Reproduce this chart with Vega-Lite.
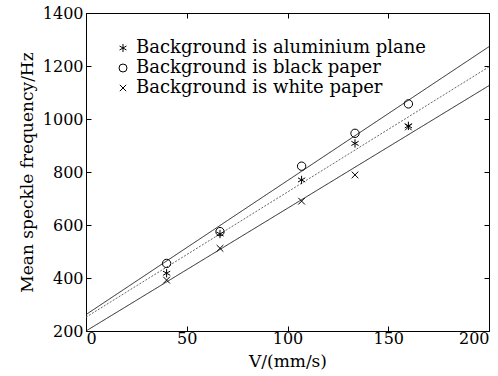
{
  "$schema": "https://vega.github.io/schema/vega-lite/v6.json",
  "width": 403,
  "height": 318,
  "autosize": {"type": "none"},
  "padding": {"left": 86, "top": 13, "right": 9, "bottom": 45},
  "background": "white",
  "config": {
    "view": {"stroke": "black", "strokeWidth": 1},
    "font": "DejaVu Serif",
    "axis": {
      "domainColor": "black",
      "tickColor": "black",
      "labelColor": "black",
      "titleColor": "black",
      "labelFont": "DejaVu Serif",
      "titleFont": "DejaVu Serif",
      "labelFontSize": 16,
      "titleFontSize": 17,
      "titleFontWeight": "normal",
      "grid": false,
      "tickSize": -5,
      "format": "d"
    },
    "legend": {
      "labelFont": "DejaVu Serif",
      "labelFontSize": 18,
      "labelColor": "black",
      "labelLimit": 0
    }
  },
  "datasets": {
    "pts": [
      {"series": "Background is aluminium plane", "V": 40, "F": 418},
      {"series": "Background is aluminium plane", "V": 66.5, "F": 566},
      {"series": "Background is aluminium plane", "V": 107, "F": 770},
      {"series": "Background is aluminium plane", "V": 133.5, "F": 908},
      {"series": "Background is aluminium plane", "V": 160, "F": 974},
      {"series": "Background is black paper", "V": 40, "F": 455},
      {"series": "Background is black paper", "V": 66.5, "F": 575},
      {"series": "Background is black paper", "V": 107, "F": 822},
      {"series": "Background is black paper", "V": 133.5, "F": 946},
      {"series": "Background is black paper", "V": 160, "F": 1057},
      {"series": "Background is white paper", "V": 40, "F": 392},
      {"series": "Background is white paper", "V": 66.5, "F": 512},
      {"series": "Background is white paper", "V": 107, "F": 690},
      {"series": "Background is white paper", "V": 133.5, "F": 789},
      {"series": "Background is white paper", "V": 160, "F": 970}
    ],
    "fits": [
      {"series": "black", "V": 0, "F": 262},
      {"series": "black", "V": 200, "F": 1273},
      {"series": "aluminium", "V": 0, "F": 252},
      {"series": "aluminium", "V": 200, "F": 1197},
      {"series": "white", "V": 0, "F": 200},
      {"series": "white", "V": 200, "F": 1126}
    ]
  },
  "layer": [
    {
      "data": {"name": "fits"},
      "mark": {"type": "line", "strokeWidth": 1, "color": "black", "clip": true},
      "encoding": {
        "x": {"field": "V", "type": "quantitative", "scale": {"domain": [0, 200], "nice": false},
          "axis": {"orient": "top", "labels": false, "title": null, "values": [0, 50, 100, 150, 200]}},
        "y": {"field": "F", "type": "quantitative", "scale": {"domain": [200, 1400], "nice": false, "zero": false},
          "axis": {"orient": "right", "labels": false, "title": null, "values": [200, 400, 600, 800, 1000, 1200, 1400]}},
        "detail": {"field": "series"},
        "strokeDash": {"field": "series", "type": "nominal", "legend": null,
          "scale": {"domain": ["black", "aluminium", "white"], "range": [[1, 0], [2, 1.5], [1, 0]]}},
        "color": {"field": "series", "type": "nominal", "legend": null,
          "scale": {"domain": ["black", "aluminium", "white"], "range": ["#222222", "#666666", "#222222"]}}
      }
    },
    {
      "data": {"name": "pts"},
      "mark": {"type": "point", "filled": false, "stroke": "black", "strokeWidth": 1, "opacity": 1},
      "encoding": {
        "x": {"field": "V", "type": "quantitative",
          "axis": {"orient": "bottom", "title": "V/(mm/s)", "values": [0, 50, 100, 150, 200], "labelPadding": 4, "titlePadding": 7}},
        "y": {"field": "F", "type": "quantitative",
          "axis": {"orient": "left", "title": "Mean speckle frequency/Hz", "values": [200, 400, 600, 800, 1000, 1200, 1400], "labelPadding": 8, "titlePadding": 6}},
        "shape": {"field": "series", "type": "nominal",
          "scale": {"domain": ["Background is aluminium plane", "Background is black paper", "Background is white paper"],
            "range": ["M0,-1L0,1M-0.866,-0.5L0.866,0.5M-0.866,0.5L0.866,-0.5", "circle", "M-0.8,-0.8L0.8,0.8M-0.8,0.8L0.8,-0.8"]},
          "legend": {"title": null, "orient": "none", "legendX": 28, "legendY": 26, "symbolSize": 64, "symbolStrokeColor": "black", "symbolStrokeWidth": 1, "symbolFillColor": "transparent", "rowPadding": 2, "labelOffset": 4, "padding": 0}},
        "size": {"value": 70}
      }
    }
  ],
  "resolve": {"axis": {"x": "independent", "y": "independent"}}
}
